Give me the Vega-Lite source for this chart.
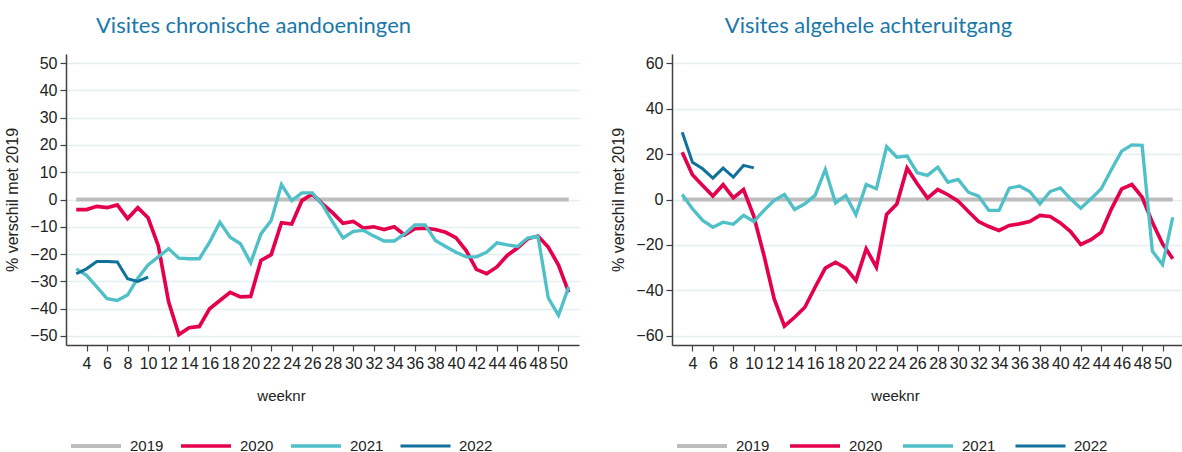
{
  "$schema": "https://vega.github.io/schema/vega-lite/v6.json",
  "padding": {"left": 4, "top": 15, "right": 0, "bottom": 0},
  "background": "white",
  "spacing": 31,
  "datasets": {
    "chron": [
      {"year": "2019", "week": 3, "value": 0}, {"year": "2019", "week": 4, "value": 0}, {"year": "2019", "week": 5, "value": 0}, {"year": "2019", "week": 6, "value": 0}, {"year": "2019", "week": 7, "value": 0}, {"year": "2019", "week": 8, "value": 0}, {"year": "2019", "week": 9, "value": 0}, {"year": "2019", "week": 10, "value": 0}, {"year": "2019", "week": 11, "value": 0}, {"year": "2019", "week": 12, "value": 0}, {"year": "2019", "week": 13, "value": 0}, {"year": "2019", "week": 14, "value": 0}, {"year": "2019", "week": 15, "value": 0}, {"year": "2019", "week": 16, "value": 0}, {"year": "2019", "week": 17, "value": 0}, {"year": "2019", "week": 18, "value": 0}, {"year": "2019", "week": 19, "value": 0}, {"year": "2019", "week": 20, "value": 0}, {"year": "2019", "week": 21, "value": 0}, {"year": "2019", "week": 22, "value": 0}, {"year": "2019", "week": 23, "value": 0}, {"year": "2019", "week": 24, "value": 0}, {"year": "2019", "week": 25, "value": 0}, {"year": "2019", "week": 26, "value": 0}, {"year": "2019", "week": 27, "value": 0}, {"year": "2019", "week": 28, "value": 0}, {"year": "2019", "week": 29, "value": 0}, {"year": "2019", "week": 30, "value": 0}, {"year": "2019", "week": 31, "value": 0}, {"year": "2019", "week": 32, "value": 0}, {"year": "2019", "week": 33, "value": 0}, {"year": "2019", "week": 34, "value": 0}, {"year": "2019", "week": 35, "value": 0}, {"year": "2019", "week": 36, "value": 0}, {"year": "2019", "week": 37, "value": 0}, {"year": "2019", "week": 38, "value": 0}, {"year": "2019", "week": 39, "value": 0}, {"year": "2019", "week": 40, "value": 0}, {"year": "2019", "week": 41, "value": 0}, {"year": "2019", "week": 42, "value": 0}, {"year": "2019", "week": 43, "value": 0}, {"year": "2019", "week": 44, "value": 0}, {"year": "2019", "week": 45, "value": 0}, {"year": "2019", "week": 46, "value": 0}, {"year": "2019", "week": 47, "value": 0}, {"year": "2019", "week": 48, "value": 0}, {"year": "2019", "week": 49, "value": 0}, {"year": "2019", "week": 50, "value": 0}, {"year": "2019", "week": 51, "value": 0},
      {"year": "2020", "week": 3, "value": -3.7}, {"year": "2020", "week": 4, "value": -3.7}, {"year": "2020", "week": 5, "value": -2.5}, {"year": "2020", "week": 6, "value": -3}, {"year": "2020", "week": 7, "value": -2}, {"year": "2020", "week": 8, "value": -7}, {"year": "2020", "week": 9, "value": -3}, {"year": "2020", "week": 10, "value": -6.7}, {"year": "2020", "week": 11, "value": -17}, {"year": "2020", "week": 12, "value": -37.5}, {"year": "2020", "week": 13, "value": -49.5}, {"year": "2020", "week": 14, "value": -47}, {"year": "2020", "week": 15, "value": -46.5}, {"year": "2020", "week": 16, "value": -40}, {"year": "2020", "week": 17, "value": -37}, {"year": "2020", "week": 18, "value": -34}, {"year": "2020", "week": 19, "value": -35.7}, {"year": "2020", "week": 20, "value": -35.5}, {"year": "2020", "week": 21, "value": -22.3}, {"year": "2020", "week": 22, "value": -20.2}, {"year": "2020", "week": 23, "value": -8.5}, {"year": "2020", "week": 24, "value": -9}, {"year": "2020", "week": 25, "value": -0.4}, {"year": "2020", "week": 26, "value": 2}, {"year": "2020", "week": 27, "value": -1.6}, {"year": "2020", "week": 28, "value": -4.9}, {"year": "2020", "week": 29, "value": -8.7}, {"year": "2020", "week": 30, "value": -8}, {"year": "2020", "week": 31, "value": -10.5}, {"year": "2020", "week": 32, "value": -10}, {"year": "2020", "week": 33, "value": -11}, {"year": "2020", "week": 34, "value": -10}, {"year": "2020", "week": 35, "value": -13}, {"year": "2020", "week": 36, "value": -10.7}, {"year": "2020", "week": 37, "value": -10.5}, {"year": "2020", "week": 38, "value": -11}, {"year": "2020", "week": 39, "value": -12}, {"year": "2020", "week": 40, "value": -14}, {"year": "2020", "week": 41, "value": -18.7}, {"year": "2020", "week": 42, "value": -25.6}, {"year": "2020", "week": 43, "value": -27.2}, {"year": "2020", "week": 44, "value": -24.7}, {"year": "2020", "week": 45, "value": -20.5}, {"year": "2020", "week": 46, "value": -17.8}, {"year": "2020", "week": 47, "value": -14.4}, {"year": "2020", "week": 48, "value": -13.4}, {"year": "2020", "week": 49, "value": -17.4}, {"year": "2020", "week": 50, "value": -24}, {"year": "2020", "week": 51, "value": -34},
      {"year": "2021", "week": 3, "value": -25.4}, {"year": "2021", "week": 4, "value": -27.8}, {"year": "2021", "week": 5, "value": -32}, {"year": "2021", "week": 6, "value": -36.3}, {"year": "2021", "week": 7, "value": -37}, {"year": "2021", "week": 8, "value": -35}, {"year": "2021", "week": 9, "value": -28.8}, {"year": "2021", "week": 10, "value": -24}, {"year": "2021", "week": 11, "value": -21}, {"year": "2021", "week": 12, "value": -18}, {"year": "2021", "week": 13, "value": -21.5}, {"year": "2021", "week": 14, "value": -21.7}, {"year": "2021", "week": 15, "value": -21.7}, {"year": "2021", "week": 16, "value": -15.6}, {"year": "2021", "week": 17, "value": -8.3}, {"year": "2021", "week": 18, "value": -13.8}, {"year": "2021", "week": 19, "value": -16.2}, {"year": "2021", "week": 20, "value": -23.2}, {"year": "2021", "week": 21, "value": -12.6}, {"year": "2021", "week": 22, "value": -7.7}, {"year": "2021", "week": 23, "value": 5.5}, {"year": "2021", "week": 24, "value": -0.4}, {"year": "2021", "week": 25, "value": 2.4}, {"year": "2021", "week": 26, "value": 2.4}, {"year": "2021", "week": 27, "value": -2}, {"year": "2021", "week": 28, "value": -8.3}, {"year": "2021", "week": 29, "value": -14.1}, {"year": "2021", "week": 30, "value": -11.7}, {"year": "2021", "week": 31, "value": -11.3}, {"year": "2021", "week": 32, "value": -13.4}, {"year": "2021", "week": 33, "value": -15.2}, {"year": "2021", "week": 34, "value": -15.2}, {"year": "2021", "week": 35, "value": -12.6}, {"year": "2021", "week": 36, "value": -9.3}, {"year": "2021", "week": 37, "value": -9.3}, {"year": "2021", "week": 38, "value": -15}, {"year": "2021", "week": 39, "value": -17.2}, {"year": "2021", "week": 40, "value": -19.3}, {"year": "2021", "week": 41, "value": -21}, {"year": "2021", "week": 42, "value": -21}, {"year": "2021", "week": 43, "value": -19.3}, {"year": "2021", "week": 44, "value": -15.9}, {"year": "2021", "week": 45, "value": -16.6}, {"year": "2021", "week": 46, "value": -17.2}, {"year": "2021", "week": 47, "value": -14.1}, {"year": "2021", "week": 48, "value": -13.4}, {"year": "2021", "week": 49, "value": -36}, {"year": "2021", "week": 50, "value": -42.4}, {"year": "2021", "week": 51, "value": -32},
      {"year": "2022", "week": 3, "value": -27.2}, {"year": "2022", "week": 4, "value": -25.4}, {"year": "2022", "week": 5, "value": -22.7}, {"year": "2022", "week": 6, "value": -22.7}, {"year": "2022", "week": 7, "value": -22.9}, {"year": "2022", "week": 8, "value": -29}, {"year": "2022", "week": 9, "value": -30}, {"year": "2022", "week": 10, "value": -28.4}
    ],
    "alg": [
      {"year": "2019", "week": 3, "value": 0}, {"year": "2019", "week": 4, "value": 0}, {"year": "2019", "week": 5, "value": 0}, {"year": "2019", "week": 6, "value": 0}, {"year": "2019", "week": 7, "value": 0}, {"year": "2019", "week": 8, "value": 0}, {"year": "2019", "week": 9, "value": 0}, {"year": "2019", "week": 10, "value": 0}, {"year": "2019", "week": 11, "value": 0}, {"year": "2019", "week": 12, "value": 0}, {"year": "2019", "week": 13, "value": 0}, {"year": "2019", "week": 14, "value": 0}, {"year": "2019", "week": 15, "value": 0}, {"year": "2019", "week": 16, "value": 0}, {"year": "2019", "week": 17, "value": 0}, {"year": "2019", "week": 18, "value": 0}, {"year": "2019", "week": 19, "value": 0}, {"year": "2019", "week": 20, "value": 0}, {"year": "2019", "week": 21, "value": 0}, {"year": "2019", "week": 22, "value": 0}, {"year": "2019", "week": 23, "value": 0}, {"year": "2019", "week": 24, "value": 0}, {"year": "2019", "week": 25, "value": 0}, {"year": "2019", "week": 26, "value": 0}, {"year": "2019", "week": 27, "value": 0}, {"year": "2019", "week": 28, "value": 0}, {"year": "2019", "week": 29, "value": 0}, {"year": "2019", "week": 30, "value": 0}, {"year": "2019", "week": 31, "value": 0}, {"year": "2019", "week": 32, "value": 0}, {"year": "2019", "week": 33, "value": 0}, {"year": "2019", "week": 34, "value": 0}, {"year": "2019", "week": 35, "value": 0}, {"year": "2019", "week": 36, "value": 0}, {"year": "2019", "week": 37, "value": 0}, {"year": "2019", "week": 38, "value": 0}, {"year": "2019", "week": 39, "value": 0}, {"year": "2019", "week": 40, "value": 0}, {"year": "2019", "week": 41, "value": 0}, {"year": "2019", "week": 42, "value": 0}, {"year": "2019", "week": 43, "value": 0}, {"year": "2019", "week": 44, "value": 0}, {"year": "2019", "week": 45, "value": 0}, {"year": "2019", "week": 46, "value": 0}, {"year": "2019", "week": 47, "value": 0}, {"year": "2019", "week": 48, "value": 0}, {"year": "2019", "week": 49, "value": 0}, {"year": "2019", "week": 50, "value": 0}, {"year": "2019", "week": 51, "value": 0},
      {"year": "2020", "week": 3, "value": 20.8}, {"year": "2020", "week": 4, "value": 10.9}, {"year": "2020", "week": 5, "value": 6.2}, {"year": "2020", "week": 6, "value": 1.5}, {"year": "2020", "week": 7, "value": 6.5}, {"year": "2020", "week": 8, "value": 0.7}, {"year": "2020", "week": 9, "value": 4.4}, {"year": "2020", "week": 10, "value": -7.3}, {"year": "2020", "week": 11, "value": -24.6}, {"year": "2020", "week": 12, "value": -43.7}, {"year": "2020", "week": 13, "value": -55.7}, {"year": "2020", "week": 14, "value": -51.8}, {"year": "2020", "week": 15, "value": -47.4}, {"year": "2020", "week": 16, "value": -38.6}, {"year": "2020", "week": 17, "value": -30.2}, {"year": "2020", "week": 18, "value": -27.6}, {"year": "2020", "week": 19, "value": -30.2}, {"year": "2020", "week": 20, "value": -35.6}, {"year": "2020", "week": 21, "value": -21.7}, {"year": "2020", "week": 22, "value": -29.8}, {"year": "2020", "week": 23, "value": -6.6}, {"year": "2020", "week": 24, "value": -2}, {"year": "2020", "week": 25, "value": 13.8}, {"year": "2020", "week": 26, "value": 6.9}, {"year": "2020", "week": 27, "value": 0.6}, {"year": "2020", "week": 28, "value": 4.4}, {"year": "2020", "week": 29, "value": 2.1}, {"year": "2020", "week": 30, "value": -0.7}, {"year": "2020", "week": 31, "value": -5.3}, {"year": "2020", "week": 32, "value": -9.7}, {"year": "2020", "week": 33, "value": -11.9}, {"year": "2020", "week": 34, "value": -13.6}, {"year": "2020", "week": 35, "value": -11.4}, {"year": "2020", "week": 36, "value": -10.7}, {"year": "2020", "week": 37, "value": -9.7}, {"year": "2020", "week": 38, "value": -7}, {"year": "2020", "week": 39, "value": -7.5}, {"year": "2020", "week": 40, "value": -10.3}, {"year": "2020", "week": 41, "value": -14.1}, {"year": "2020", "week": 42, "value": -19.8}, {"year": "2020", "week": 43, "value": -17.7}, {"year": "2020", "week": 44, "value": -14.4}, {"year": "2020", "week": 45, "value": -4.1}, {"year": "2020", "week": 46, "value": 4.7}, {"year": "2020", "week": 47, "value": 6.6}, {"year": "2020", "week": 48, "value": 1}, {"year": "2020", "week": 49, "value": -10}, {"year": "2020", "week": 50, "value": -19.5}, {"year": "2020", "week": 51, "value": -26.1},
      {"year": "2021", "week": 3, "value": 2.2}, {"year": "2021", "week": 4, "value": -4.1}, {"year": "2021", "week": 5, "value": -9.2}, {"year": "2021", "week": 6, "value": -12.2}, {"year": "2021", "week": 7, "value": -10}, {"year": "2021", "week": 8, "value": -10.9}, {"year": "2021", "week": 9, "value": -7}, {"year": "2021", "week": 10, "value": -9.7}, {"year": "2021", "week": 11, "value": -4.8}, {"year": "2021", "week": 12, "value": -0.4}, {"year": "2021", "week": 13, "value": 2.2}, {"year": "2021", "week": 14, "value": -4.4}, {"year": "2021", "week": 15, "value": -1.9}, {"year": "2021", "week": 16, "value": 1.8}, {"year": "2021", "week": 17, "value": 13.2}, {"year": "2021", "week": 18, "value": -1.5}, {"year": "2021", "week": 19, "value": 1.8}, {"year": "2021", "week": 20, "value": -6.7}, {"year": "2021", "week": 21, "value": 6.6}, {"year": "2021", "week": 22, "value": 4.7}, {"year": "2021", "week": 23, "value": 23.3}, {"year": "2021", "week": 24, "value": 18.6}, {"year": "2021", "week": 25, "value": 19.1}, {"year": "2021", "week": 26, "value": 11.7}, {"year": "2021", "week": 27, "value": 10.6}, {"year": "2021", "week": 28, "value": 14.2}, {"year": "2021", "week": 29, "value": 7.6}, {"year": "2021", "week": 30, "value": 8.8}, {"year": "2021", "week": 31, "value": 3.2}, {"year": "2021", "week": 32, "value": 1.5}, {"year": "2021", "week": 33, "value": -4.8}, {"year": "2021", "week": 34, "value": -4.8}, {"year": "2021", "week": 35, "value": 5}, {"year": "2021", "week": 36, "value": 5.9}, {"year": "2021", "week": 37, "value": 3.5}, {"year": "2021", "week": 38, "value": -1.9}, {"year": "2021", "week": 39, "value": 3.5}, {"year": "2021", "week": 40, "value": 5.1}, {"year": "2021", "week": 41, "value": 0.3}, {"year": "2021", "week": 42, "value": -3.8}, {"year": "2021", "week": 43, "value": 0.3}, {"year": "2021", "week": 44, "value": 4.7}, {"year": "2021", "week": 45, "value": 13.2}, {"year": "2021", "week": 46, "value": 21.3}, {"year": "2021", "week": 47, "value": 24}, {"year": "2021", "week": 48, "value": 23.8}, {"year": "2021", "week": 49, "value": -22.7}, {"year": "2021", "week": 50, "value": -28.6}, {"year": "2021", "week": 51, "value": -7.8},
      {"year": "2022", "week": 3, "value": 29.6}, {"year": "2022", "week": 4, "value": 16.4}, {"year": "2022", "week": 5, "value": 13.5}, {"year": "2022", "week": 6, "value": 9.4}, {"year": "2022", "week": 7, "value": 13.8}, {"year": "2022", "week": 8, "value": 9.8}, {"year": "2022", "week": 9, "value": 15}, {"year": "2022", "week": 10, "value": 13.9}
    ]
  },
  "config": {
    "view": {"stroke": null},
    "title": {"font": "Lato", "fontSize": 22, "fontWeight": "normal", "color": "#1a78a8", "anchor": "middle", "offset": 16},
    "axis": {
      "domainColor": "#404040", "domainWidth": 1.5, "tickColor": "#404040", "tickWidth": 1.2, "tickSize": 6,
      "labelColor": "#222222", "titleColor": "#222222", "titleFontWeight": "normal",
      "gridColor": "#e4edf0", "gridWidth": 1.5
    },
    "axisX": {"labelFont": "Liberation Sans Narrow, Liberation Sans", "labelFontSize": 16, "labelPadding": 4, "titleFont": "Liberation Sans Narrow, Liberation Sans", "titleFontSize": 15, "titlePadding": 17, "grid": false, "labelAngle": 0},
    "axisY": {"labelFont": "Liberation Sans", "labelFontSize": 16, "labelPadding": 3, "titleFont": "Liberation Sans", "titleFontSize": 16, "titlePadding": 9, "tickSize": 6},
    "legend": {"labelFont": "Liberation Sans", "labelFontSize": 15, "labelColor": "#222222", "symbolType": "stroke", "symbolSize": 2500, "symbolStrokeWidth": 3, "labelOffset": 7, "clipHeight": 12, "direction": "horizontal", "orient": "none"}
  },
  "resolve": {"scale": {"color": "independent", "strokeWidth": "independent"}, "legend": {"color": "independent"}},
  "hconcat": [
    {
      "data": {"name": "chron"},
      "width": 513,
      "height": 291,
      "title": {"text": "Visites chronische aandoeningen", "dx": -69},
      "mark": {"type": "line", "clip": true},
      "encoding": {
        "x": {"field": "week", "type": "quantitative", "scale": {"domain": [2, 52], "nice": false, "zero": false}, "axis": {"values": [4, 6, 8, 10, 12, 14, 16, 18, 20, 22, 24, 26, 28, 30, 32, 34, 36, 38, 40, 42, 44, 46, 48, 50], "title": "weeknr", "titleX": 215}},
        "y": {"field": "value", "type": "quantitative", "scale": {"domain": [-53.3, 53.3], "nice": false}, "axis": {"values": [-50, -40, -30, -20, -10, 0, 10, 20, 30, 40, 50], "title": "% verschil met 2019"}},
        "color": {"field": "year", "type": "nominal", "scale": {"domain": ["2019", "2020", "2021", "2022"], "range": ["#bdbdbd", "#e5004b", "#4fc0c8", "#10719a"]}, "legend": {"title": null, "legendX": 3, "legendY": 386, "columnPadding": 15}},
        "strokeWidth": {"field": "year", "type": "nominal", "scale": {"domain": ["2019", "2020", "2021", "2022"], "range": [4, 3, 3, 3]}, "legend": null}
      }
    },
    {
      "data": {"name": "alg"},
      "width": 511,
      "height": 291,
      "title": {"text": "Visites algehele achteruitgang", "dx": -59},
      "mark": {"type": "line", "clip": true},
      "encoding": {
        "x": {"field": "week", "type": "quantitative", "scale": {"domain": [2, 52], "nice": false, "zero": false}, "axis": {"values": [4, 6, 8, 10, 12, 14, 16, 18, 20, 22, 24, 26, 28, 30, 32, 34, 36, 38, 40, 42, 44, 46, 48, 50], "title": "weeknr", "titleX": 223}},
        "y": {"field": "value", "type": "quantitative", "scale": {"domain": [-64, 64], "nice": false}, "axis": {"values": [-60, -40, -20, 0, 20, 40, 60], "title": "% verschil met 2019"}},
        "color": {"field": "year", "type": "nominal", "scale": {"domain": ["2019", "2020", "2021", "2022"], "range": ["#bdbdbd", "#e5004b", "#4fc0c8", "#10719a"]}, "legend": {"title": null, "legendX": 3, "legendY": 386, "columnPadding": 18}},
        "strokeWidth": {"field": "year", "type": "nominal", "scale": {"domain": ["2019", "2020", "2021", "2022"], "range": [4, 3, 3, 3]}, "legend": null}
      }
    }
  ]
}
